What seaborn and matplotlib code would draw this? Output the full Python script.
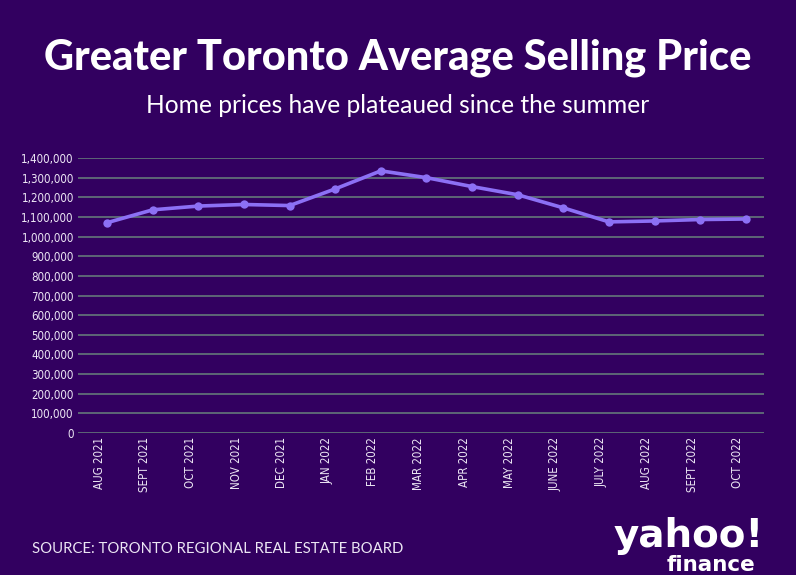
import matplotlib
matplotlib.use("Agg")
import matplotlib.pyplot as plt
import matplotlib.transforms as mtransforms
from matplotlib.ticker import FuncFormatter, MultipleLocator
import seaborn as sns
import pandas as pd

months = ["AUG 2021", "SEPT 2021", "OCT 2021", "NOV 2021", "DEC 2021", "JAN 2022",
          "FEB 2022", "MAR 2022", "APR 2022", "MAY 2022", "JUNE 2022", "JULY 2022",
          "AUG 2022", "SEPT 2022", "OCT 2022"]
prices = [1070911, 1136280, 1155345, 1163323, 1157837, 1242793, 1334544, 1299894,
          1254436, 1212806, 1146254, 1074754, 1079500, 1086762, 1089428]

title = "Greater Toronto Average Selling Price"
subtitle = "Home prices have plateaued since the summer"
source = "SOURCE: TORONTO REGIONAL REAL ESTATE BOARD"

BG = "#320060"
LINE = "#8c70f5"
GRID = "#5d6676"
TXT = "#ece6f4"

sns.set_theme(style="white")
plt.rcParams["font.family"] = ["DejaVu Sans"]
plt.rcParams["font.stretch"] = "condensed"

df = pd.DataFrame({"month": months, "price": prices, "pos": range(len(months))})

fig = plt.figure(figsize=(7.96, 5.75), dpi=100, facecolor=BG)
ax = fig.add_axes([78 / 796, 1 - 433 / 575, (764 - 78) / 796, (433 - 158) / 575])
ax.set_facecolor(BG)

sns.lineplot(data=df, x="pos", y="price", ax=ax, color=LINE, linewidth=2.6,
             marker="o", markersize=6, markeredgewidth=0, zorder=3)

ax.set_ylim(0, 1400000)
ax.set_xlim(-0.64, len(months) - 1 + 0.40)
ax.yaxis.set_major_locator(MultipleLocator(100000))
ax.yaxis.set_major_formatter(FuncFormatter(lambda v, p: f"{int(v):,}"))
ax.grid(axis="y", color=GRID, linewidth=1.4)
ax.grid(axis="x", visible=False)
for s in ax.spines.values():
    s.set_visible(False)

ax.set_xticks(df["pos"])
ax.set_xticklabels(months, rotation=90, va="top", ha="center")
ax.set_xlabel("")
ax.set_ylabel("")

ax.tick_params(axis="y", length=0, pad=3, labelsize=8.3, labelcolor=TXT)
ax.tick_params(axis="x", direction="out", length=37, width=1.3, color="#6c6a92",
               pad=-34, labelsize=8.3, labelcolor=TXT)
off = mtransforms.ScaledTranslation(-8 / 100, 0, fig.dpi_scale_trans)
for lab in ax.get_xticklabels():
    lab.set_transform(lab.get_transform() + off)

fig.text(0.5, 1 - 58 / 575, title, ha="center", va="center", color="white",
         fontsize=30, fontweight="black", family=["Lato", "DejaVu Sans"], fontstretch="normal")
fig.text(0.5, 1 - 105 / 575, subtitle, ha="center", va="center", color="white",
         fontsize=17.7, family=["Lato", "DejaVu Sans"], fontstretch="normal")
fig.text(32 / 796, 1 - 549 / 575, source, ha="left", va="center", color=TXT,
         fontsize=10.7, family=["Lato", "DejaVu Sans"], fontstretch="normal")
fig.text(764 / 796, 1 - 536 / 575, "yahoo!", ha="right", va="center", color="white",
         fontsize=28, fontweight="bold", family=["DejaVu Sans"], fontstretch="normal")
fig.text(755 / 796, 1 - 565 / 575, "finance", ha="right", va="center", color="white",
         fontsize=15.5, fontweight="bold", family=["DejaVu Sans"], fontstretch="normal")

fig.savefig("out.png", dpi=100, facecolor=BG)
